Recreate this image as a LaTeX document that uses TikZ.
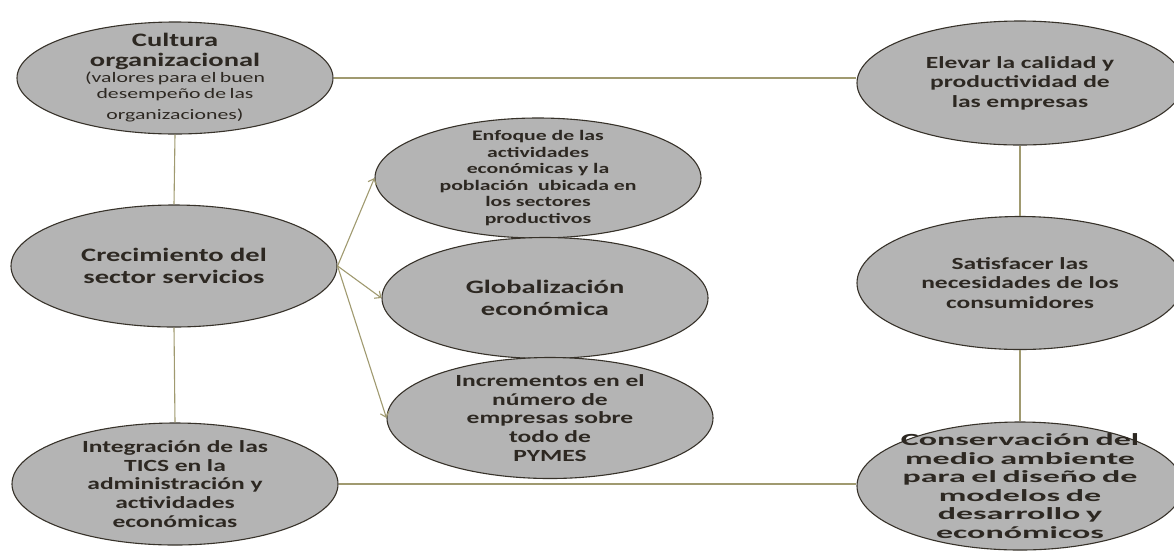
\documentclass[tikz,border=0pt]{standalone}
\usepackage{fontspec}
\setmainfont{Carlito}[FakeStretch=1.5]
\newfontfamily\widefont{Carlito}[FakeStretch=2.0]
\usetikzlibrary{shapes.geometric,arrows.meta}
\definecolor{ellfill}{RGB}{180,180,180}
\definecolor{ellline}{RGB}{55,50,42}
\definecolor{conn}{RGB}{160,154,112}
\definecolor{txt}{RGB}{45,40,34}
\tikzset{
  ell/.style={ellipse, draw=ellline, line width=1.1pt, fill=ellfill,
    inner xsep=-70pt, inner ysep=-40pt, text width=300pt, align=center, text=txt, font=\bfseries},
  link/.style={draw=conn, line width=1.1pt},
  arr/.style={draw=conn, line width=1.1pt, -{Straight Barb[length=5pt,width=9pt]}}
}
\begin{document}
\begin{tikzpicture}[x=1pt,y=-1pt]
\useasboundingbox[fill=white] (0,0) rectangle (1174,550);
% left column
\node[ell, minimum width=316pt, minimum height=112pt] (cul) at (175,78)
  {{\fontsize{19}{20}\selectfont Cultura\\organizacional\par}
   {\fontsize{14.5}{16}\selectfont\mdseries (valores para el buen\\desempeño de las\\[5pt] organizaciones)\par}};
\node[ell, minimum width=326pt, minimum height=122pt, font=\bfseries\fontsize{19}{21.5}\selectfont] (cre) at (174,266)
  {Crecimiento del\\sector servicios};
\node[ell, minimum width=326pt, minimum height=122pt, font=\bfseries\fontsize{17}{18.75}\selectfont] (int) at (175,484)
  {Integración de las\\TICS en la\\administración y\\actividades\\económicas};
% middle column
\node[ell, minimum width=326pt, minimum height=120pt, font=\bfseries\fontsize{14.5}{16.5}\selectfont] (enf) at (538,178)
  {Enfoque de las\\actividades\\económicas y la\\población \ ubicada en\\los sectores\\productivos};
\node[ell, minimum width=326pt, minimum height=121pt, font=\bfseries\fontsize{19}{21.5}\selectfont] (glo) at (545,298)
  {Globalización\\económica};
\node[ell, minimum width=326pt, minimum height=121pt, font=\bfseries\fontsize{17}{18.75}\selectfont] (inc) at (550,418)
  {Incrementos en el\\número de\\empresas sobre\\todo de\\PYMES};
% right column
\node[ell, minimum width=326pt, minimum height=124pt, font=\bfseries\fontsize{17}{19.5}\selectfont] (ele) at (1020,83)
  {Elevar la calidad y\\productividad de\\las empresas};
\node[ell, minimum width=326pt, minimum height=133pt, font=\bfseries\fontsize{17}{19.5}\selectfont] (sat) at (1020,283)
  {Satisfacer las\\necesidades de los\\consumidores};
\node[ell, minimum width=326pt, minimum height=128pt, font=\widefont\bfseries\fontsize{17}{18.5}\selectfont] (con) at (1020,486)
  {Conservación del\\medio ambiente\\para el diseño de\\modelos de\\desarrollo y\\económicos};
% connectors
\draw[link] (cul.south) -- (cre.north);
\draw[link] (cre.south) -- (int.north);
\draw[link] (cul.east) -- (cul.east -| ele.west);
\draw[link] (int.east) -- (int.east -| con.west);
\draw[link] (ele.south) -- (sat.north);
\draw[link] (sat.south) -- (con.north);
\draw[arr] (cre.east) -- (enf.west);
\draw[arr] (cre.east) -- (glo.west);
\draw[arr] (cre.east) -- (inc.west);
\end{tikzpicture}
\end{document}
